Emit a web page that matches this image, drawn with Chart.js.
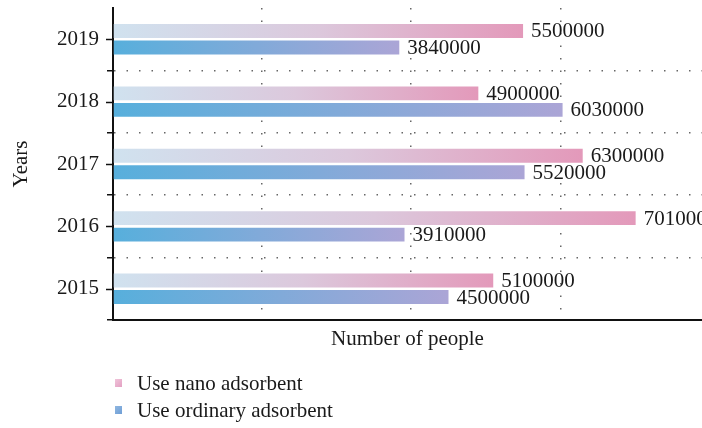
<!DOCTYPE html>
<html>
<head>
<meta charset="utf-8">
<script src="https://cdn.jsdelivr.net/npm/chart.js@4/dist/chart.umd.min.js"></script>
<style>
  html, body { margin: 0; padding: 0; background: #fff; }
</style>
</head>
<body>
<canvas id="people-chart" width="702" height="428"></canvas>
<script>
const years = ["2019", "2018", "2017", "2016", "2015"];
const nanoValues = [5500000, 4900000, 6300000, 7010000, 5100000];
const ordinaryValues = [3840000, 6030000, 5520000, 3910000, 4500000];
const seriesNames = ["Use nano adsorbent", "Use ordinary adsorbent"];
const xGridValues = [0, 2000000, 4000000, 6000000];
const xTitle = "Number of people";
const yTitle = "Years";

const FONT = "'Liberation Serif', 'Times New Roman', serif";
const TEXT = "#1a1a1a";
const DOTS = [1.5, 11];

// gradient runs along each bar, from the axis to the bar's end
const barGradient = (stops) => (ctx) => {
  const chart = ctx.chart;
  const x = chart.scales.x;
  const fallback = stops[stops.length - 1][1];
  if (!x || ctx.type !== "data") return fallback;
  const x0 = x.getPixelForValue(0);
  const x1 = x.getPixelForValue(ctx.raw);
  if (!isFinite(x0) || !isFinite(x1) || x1 <= x0) return fallback;
  const g = chart.ctx.createLinearGradient(x0, 0, x1, 0);
  stops.forEach(s => g.addColorStop(s[0], s[1]));
  return g;
};

const nanoStops = [[0, "#d0e2ef"], [0.5, "#dcc8dc"], [1, "#e399ba"]];
const ordinaryStops = [[0, "#57afdc"], [1, "#aba5d6"]];

const valueLabels = {
  id: "valueLabels",
  afterDatasetsDraw(chart) {
    const ctx = chart.ctx;
    ctx.save();
    ctx.font = "21px " + FONT;
    ctx.fillStyle = TEXT;
    ctx.textAlign = "left";
    ctx.textBaseline = "middle";
    chart.data.datasets.forEach((ds, di) => {
      chart.getDatasetMeta(di).data.forEach((bar, i) => {
        ctx.fillText(String(ds.data[i]), bar.x + 8, bar.y + 1);
      });
    });
    ctx.restore();
  }
};

// ticks at category centres (boundary ticks come from the grid)
const centreTicks = {
  id: "centreTicks",
  afterDraw(chart) {
    const y = chart.scales.y;
    const ctx = chart.ctx;
    ctx.save();
    ctx.strokeStyle = "#111";
    ctx.lineWidth = 1.5;
    years.forEach((_, i) => {
      const py = Math.round(y.getPixelForValue(i)) + 0.5;
      ctx.beginPath();
      ctx.moveTo(y.right - 7, py);
      ctx.lineTo(y.right, py);
      ctx.stroke();
    });
    ctx.restore();
  }
};

const stackedLegend = {
  id: "stackedLegend",
  afterDraw(chart) {
    const ctx = chart.ctx;
    const colors = [["#f0c4da", "#e3a0c2"], ["#8fb6e0", "#6f9fd6"]];
    ctx.save();
    ctx.font = "21px " + FONT;
    ctx.textBaseline = "middle";
    chart.data.datasets.forEach((ds, i) => {
      const cy = 383 + i * 27;
      const g = ctx.createLinearGradient(115, cy - 4, 122, cy + 4);
      g.addColorStop(0, colors[i][0]);
      g.addColorStop(1, colors[i][1]);
      ctx.fillStyle = g;
      ctx.fillRect(115, cy - 4, 7, 8);
      ctx.fillStyle = TEXT;
      ctx.fillText(ds.label, 137, cy + 1);
    });
    ctx.restore();
  }
};

new Chart("people-chart", {
  type: "bar",
  data: {
    labels: years,
    datasets: [
      {
        label: seriesNames[0],
        data: nanoValues,
        backgroundColor: barGradient(nanoStops),
        categoryPercentage: 0.53,
        barPercentage: 0.84,
      },
      {
        label: seriesNames[1],
        data: ordinaryValues,
        backgroundColor: barGradient(ordinaryStops),
        categoryPercentage: 0.53,
        barPercentage: 0.84,
      },
    ],
  },
  options: {
    indexAxis: "y",
    responsive: false,
    animation: false,
    layout: {
      padding: { top: 8, right: 0, bottom: 0, left: 0 },
    },
    scales: {
      x: {
        min: 0,
        max: 7900000,
        afterFit: (scale) => { scale.height = 108; },
        afterBuildTicks: (scale) => {
          scale.ticks = xGridValues.map(v => ({ value: v }));
        },
        ticks: { display: false },
        grid: {
          drawTicks: false,
          color: (c) => (c.index === 0 ? "rgba(0,0,0,0)" : "#666"),
          lineWidth: 1.5,
        },
        border: { display: true, color: "#111", width: 2, dash: DOTS },
        title: {
          display: true,
          text: xTitle,
          color: TEXT,
          font: { family: FONT, size: 21 },
          padding: { top: 0, bottom: 76 },
        },
      },
      y: {
        afterFit: (scale) => {
          scale.width = 113;
          scale.paddingTop = 0;
          scale.paddingBottom = 0;
        },
        ticks: {
          color: TEXT,
          font: { family: FONT, size: 21 },
          padding: 8,
        },
        grid: {
          offset: true,
          tickLength: 6,
          color: (c) => (c.index === 0 ? "rgba(0,0,0,0)" : "#666"),
          lineWidth: 1.5,
          tickColor: (c) => (c.index === 0 ? "rgba(0,0,0,0)" : "#111"),
          tickWidth: 1.5,
          tickBorderDash: [],
        },
        border: { display: true, color: "#111", width: 2, dash: DOTS },
        title: {
          display: true,
          text: yTitle,
          color: TEXT,
          font: { family: FONT, size: 21 },
          padding: { top: 9, bottom: 0 },
        },
      },
    },
    plugins: {
      legend: { display: false },
      tooltip: { enabled: false },
    },
  },
  plugins: [valueLabels, centreTicks, stackedLegend],
});
</script>
</body>
</html>
